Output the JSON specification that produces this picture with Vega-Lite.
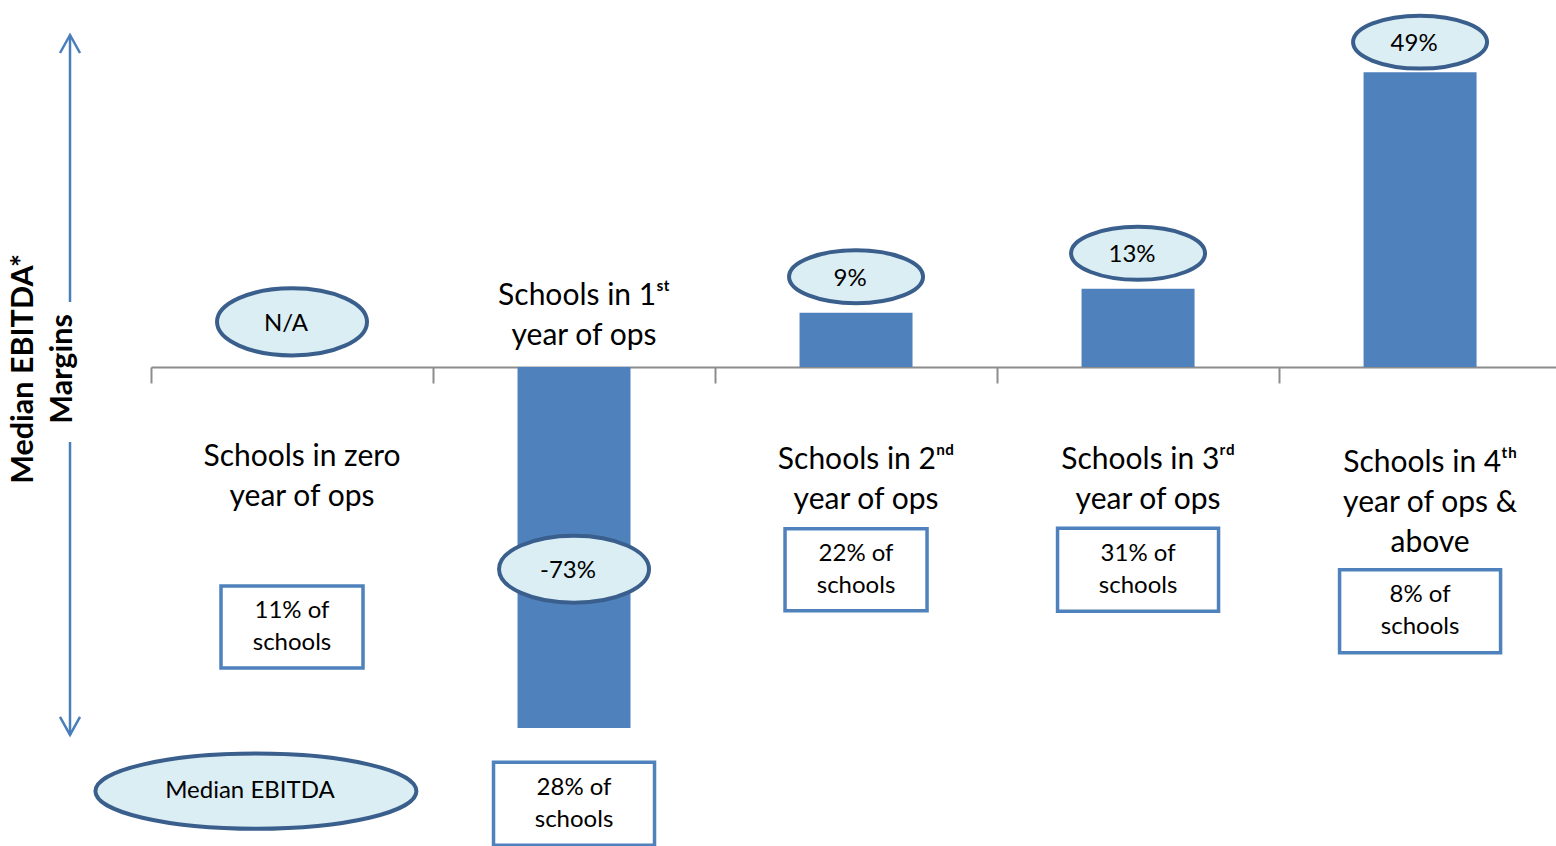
{
  "$schema": "https://vega.github.io/schema/vega-lite/v6.json",
  "width": 1405,
  "height": 722,
  "autosize": {"type": "none"},
  "padding": {"left": 151, "top": 6, "right": 0, "bottom": 118},
  "background": "white",
  "config": {"view": {"stroke": null}, "font": "Lato"},
  "datasets": {
    "schools": [
      {"cat": "zero", "slot": 0.5, "margin": null, "marginText": "N/A", "ovalY": 7.5, "label": "Schools in zero\nyear of ops", "labelY": -14.96, "share": "11% of\nschools", "boxY": -43.2},
      {"cat": "1st", "slot": 1.5, "margin": -73, "marginText": "-73%", "ovalY": -33.6, "label": "Schools in 1ˢᵗ\nyear of ops", "labelY": 11.8, "share": "28%  of\nschools", "boxY": -72.6},
      {"cat": "2nd", "slot": 2.5, "margin": 9, "marginText": "9%", "ovalY": 15.0, "label": "Schools in 2ⁿᵈ\nyear of ops", "labelY": -15.46, "share": "22% of\nschools", "boxY": -33.7},
      {"cat": "3rd", "slot": 3.5, "margin": 13, "marginText": "13%", "ovalY": 18.9, "label": "Schools in 3ʳᵈ\nyear of ops", "labelY": -15.46, "share": "31%  of\nschools", "boxY": -33.7},
      {"cat": "4th", "slot": 4.5, "margin": 49, "marginText": "49%", "ovalY": 54.0, "label": "Schools in 4ᵗʰ\nyear of ops &\nabove", "labelY": -15.95, "share": "8%  of\nschools", "boxY": -40.6}
    ],
    "legend": [
      {"slot": 0.372, "y": -70.5, "text": "Median EBITDA"}
    ],
    "arrowLine": [
      {"slot": -0.2872, "y": 55.18, "y2": 10.8},
      {"slot": -0.2872, "y": -12.46, "y2": -61.16}
    ],
    "arrowHead": [
      {"slot": -0.2872, "y": 55.18, "dir": "up"},
      {"slot": -0.2872, "y": -61.16, "dir": "down"}
    ],
    "title": [
      {"slot": -0.4504, "y": -0.33, "text": "Median EBITDA*\nMargins"}
    ]
  },
  "encoding": {
    "x": {"field": "slot", "type": "quantitative",
          "scale": {"domain": [0, 4.982], "nice": false, "zero": false, "padding": 0},
          "axis": {"values": [0, 1, 2, 3, 4], "labels": false, "ticks": true, "tickSize": 16, "tickColor": "#8c8c8c", "tickWidth": 2, "domainColor": "#8c8c8c", "domainWidth": 2, "grid": false, "title": null, "offset": -361}}
  },
  "layer": [
    {
      "data": {"name": "schools"},
      "mark": {"type": "bar", "color": "#4f81bd", "width": 113, "clip": true},
      "encoding": {
        "y": {"field": "margin", "type": "quantitative", "scale": {"domain": [-60, 60], "nice": false}, "axis": null}
      }
    },
    {
      "data": {"name": "schools"},
      "transform": [{"filter": "datum.cat === 'zero' || datum.cat === '1st'"}],
      "mark": {"type": "point", "filled": false, "fill": "#dbeef4", "fillOpacity": 1, "stroke": "#3a5f8d", "strokeWidth": 4, "opacity": 1, "size": 22500,
               "shape": "M -1 0 C -1 -0.2469 -0.5523 -0.447 0 -0.447 C 0.5523 -0.447 1 -0.2469 1 0 C 1 0.2469 0.5523 0.447 0 0.447 C -0.5523 0.447 -1 0.2469 -1 0 Z"},
      "encoding": {
        "y": {"field": "ovalY", "type": "quantitative", "scale": {"domain": [-60, 60], "nice": false}, "axis": null}
      }
    },
    {
      "data": {"name": "schools"},
      "transform": [{"filter": "datum.cat !== 'zero' && datum.cat !== '1st'"}],
      "mark": {"type": "point", "filled": false, "fill": "#dbeef4", "fillOpacity": 1, "stroke": "#3a5f8d", "strokeWidth": 4, "opacity": 1, "size": 17956,
               "shape": "M -1 0 C -1 -0.2182 -0.5523 -0.395 0 -0.395 C 0.5523 -0.395 1 -0.2182 1 0 C 1 0.2182 0.5523 0.395 0 0.395 C -0.5523 0.395 -1 0.2182 -1 0 Z"},
      "encoding": {
        "y": {"field": "ovalY", "type": "quantitative", "scale": {"domain": [-60, 60], "nice": false}, "axis": null}
      }
    },
    {
      "data": {"name": "schools"},
      "mark": {"type": "text", "fontSize": 24, "color": "#000000", "dx": -6, "dy": 2, "align": "center", "baseline": "middle"},
      "encoding": {
        "y": {"field": "ovalY", "type": "quantitative", "scale": {"domain": [-60, 60], "nice": false}, "axis": null},
        "text": {"field": "marginText", "type": "nominal"}
      }
    },
    {
      "data": {"name": "schools"},
      "transform": [{"filter": "datum.cat === 'zero' || datum.cat === '2nd'"}],
      "mark": {"type": "point", "filled": false, "fill": "#ffffff", "fillOpacity": 1, "stroke": "#4f81bd", "strokeWidth": 3.5, "opacity": 1, "size": 20164,
               "shape": "M -1 -0.577 L 1 -0.577 L 1 0.577 L -1 0.577 Z"},
      "encoding": {
        "y": {"field": "boxY", "type": "quantitative", "scale": {"domain": [-60, 60], "nice": false}, "axis": null}
      }
    },
    {
      "data": {"name": "schools"},
      "transform": [{"filter": "datum.cat !== 'zero' && datum.cat !== '2nd'"}],
      "mark": {"type": "point", "filled": false, "fill": "#ffffff", "fillOpacity": 1, "stroke": "#4f81bd", "strokeWidth": 3.5, "opacity": 1, "size": 25921,
               "shape": "M -1 -0.5155 L 1 -0.5155 L 1 0.5155 L -1 0.5155 Z"},
      "encoding": {
        "y": {"field": "boxY", "type": "quantitative", "scale": {"domain": [-60, 60], "nice": false}, "axis": null}
      }
    },
    {
      "data": {"name": "schools"},
      "mark": {"type": "text", "fontSize": 24, "lineHeight": 32, "lineBreak": "\n", "color": "#000000", "align": "center", "baseline": "middle", "dy": -16},
      "encoding": {
        "y": {"field": "boxY", "type": "quantitative", "scale": {"domain": [-60, 60], "nice": false}, "axis": null},
        "text": {"field": "share", "type": "nominal"}
      }
    },
    {
      "data": {"name": "schools"},
      "mark": {"type": "text", "fontSize": 30, "lineHeight": 40, "lineBreak": "\n", "color": "#000000", "align": "center", "baseline": "middle", "dx": 10},
      "encoding": {
        "y": {"field": "labelY", "type": "quantitative", "scale": {"domain": [-60, 60], "nice": false}, "axis": null},
        "text": {"field": "label", "type": "nominal"}
      }
    },
    {
      "data": {"name": "legend"},
      "mark": {"type": "point", "filled": false, "fill": "#dbeef4", "fillOpacity": 1, "stroke": "#3a5f8d", "strokeWidth": 4, "opacity": 1, "size": 103041,
               "shape": "M -1 0 C -1 -0.1292 -0.5523 -0.234 0 -0.234 C 0.5523 -0.234 1 -0.1292 1 0 C 1 0.1292 0.5523 0.234 0 0.234 C -0.5523 0.234 -1 0.1292 -1 0 Z"},
      "encoding": {
        "y": {"field": "y", "type": "quantitative", "scale": {"domain": [-60, 60], "nice": false}, "axis": null}
      }
    },
    {
      "data": {"name": "legend"},
      "mark": {"type": "text", "fontSize": 24, "color": "#000000", "dx": -6, "align": "center", "baseline": "middle"},
      "encoding": {
        "y": {"field": "y", "type": "quantitative", "scale": {"domain": [-60, 60], "nice": false}, "axis": null},
        "text": {"field": "text", "type": "nominal"}
      }
    },
    {
      "data": {"name": "arrowLine"},
      "mark": {"type": "rule", "color": "#4a7ebb", "strokeWidth": 2.5},
      "encoding": {
        "y": {"field": "y", "type": "quantitative", "scale": {"domain": [-60, 60], "nice": false}, "axis": null},
        "y2": {"field": "y2"}
      }
    },
    {
      "data": {"name": "arrowHead"},
      "mark": {"type": "point", "filled": false, "stroke": "#4a7ebb", "strokeWidth": 2.5, "opacity": 1, "size": 400},
      "encoding": {
        "y": {"field": "y", "type": "quantitative", "scale": {"domain": [-60, 60], "nice": false}, "axis": null},
        "shape": {"field": "dir", "type": "nominal", "legend": null,
                  "scale": {"domain": ["up", "down"], "range": ["M -1 1.8 L 0 0 L 1 1.8", "M -1 -1.8 L 0 0 L 1 -1.8"]}}
      }
    },
    {
      "data": {"name": "title"},
      "mark": {"type": "text", "fontSize": 30.5, "fontWeight": "bold", "lineHeight": 39, "lineBreak": "\n", "angle": 270, "color": "#000000", "align": "center", "baseline": "middle"},
      "encoding": {
        "y": {"field": "y", "type": "quantitative", "scale": {"domain": [-60, 60], "nice": false}, "axis": null},
        "text": {"field": "text", "type": "nominal"}
      }
    }
  ]
}
